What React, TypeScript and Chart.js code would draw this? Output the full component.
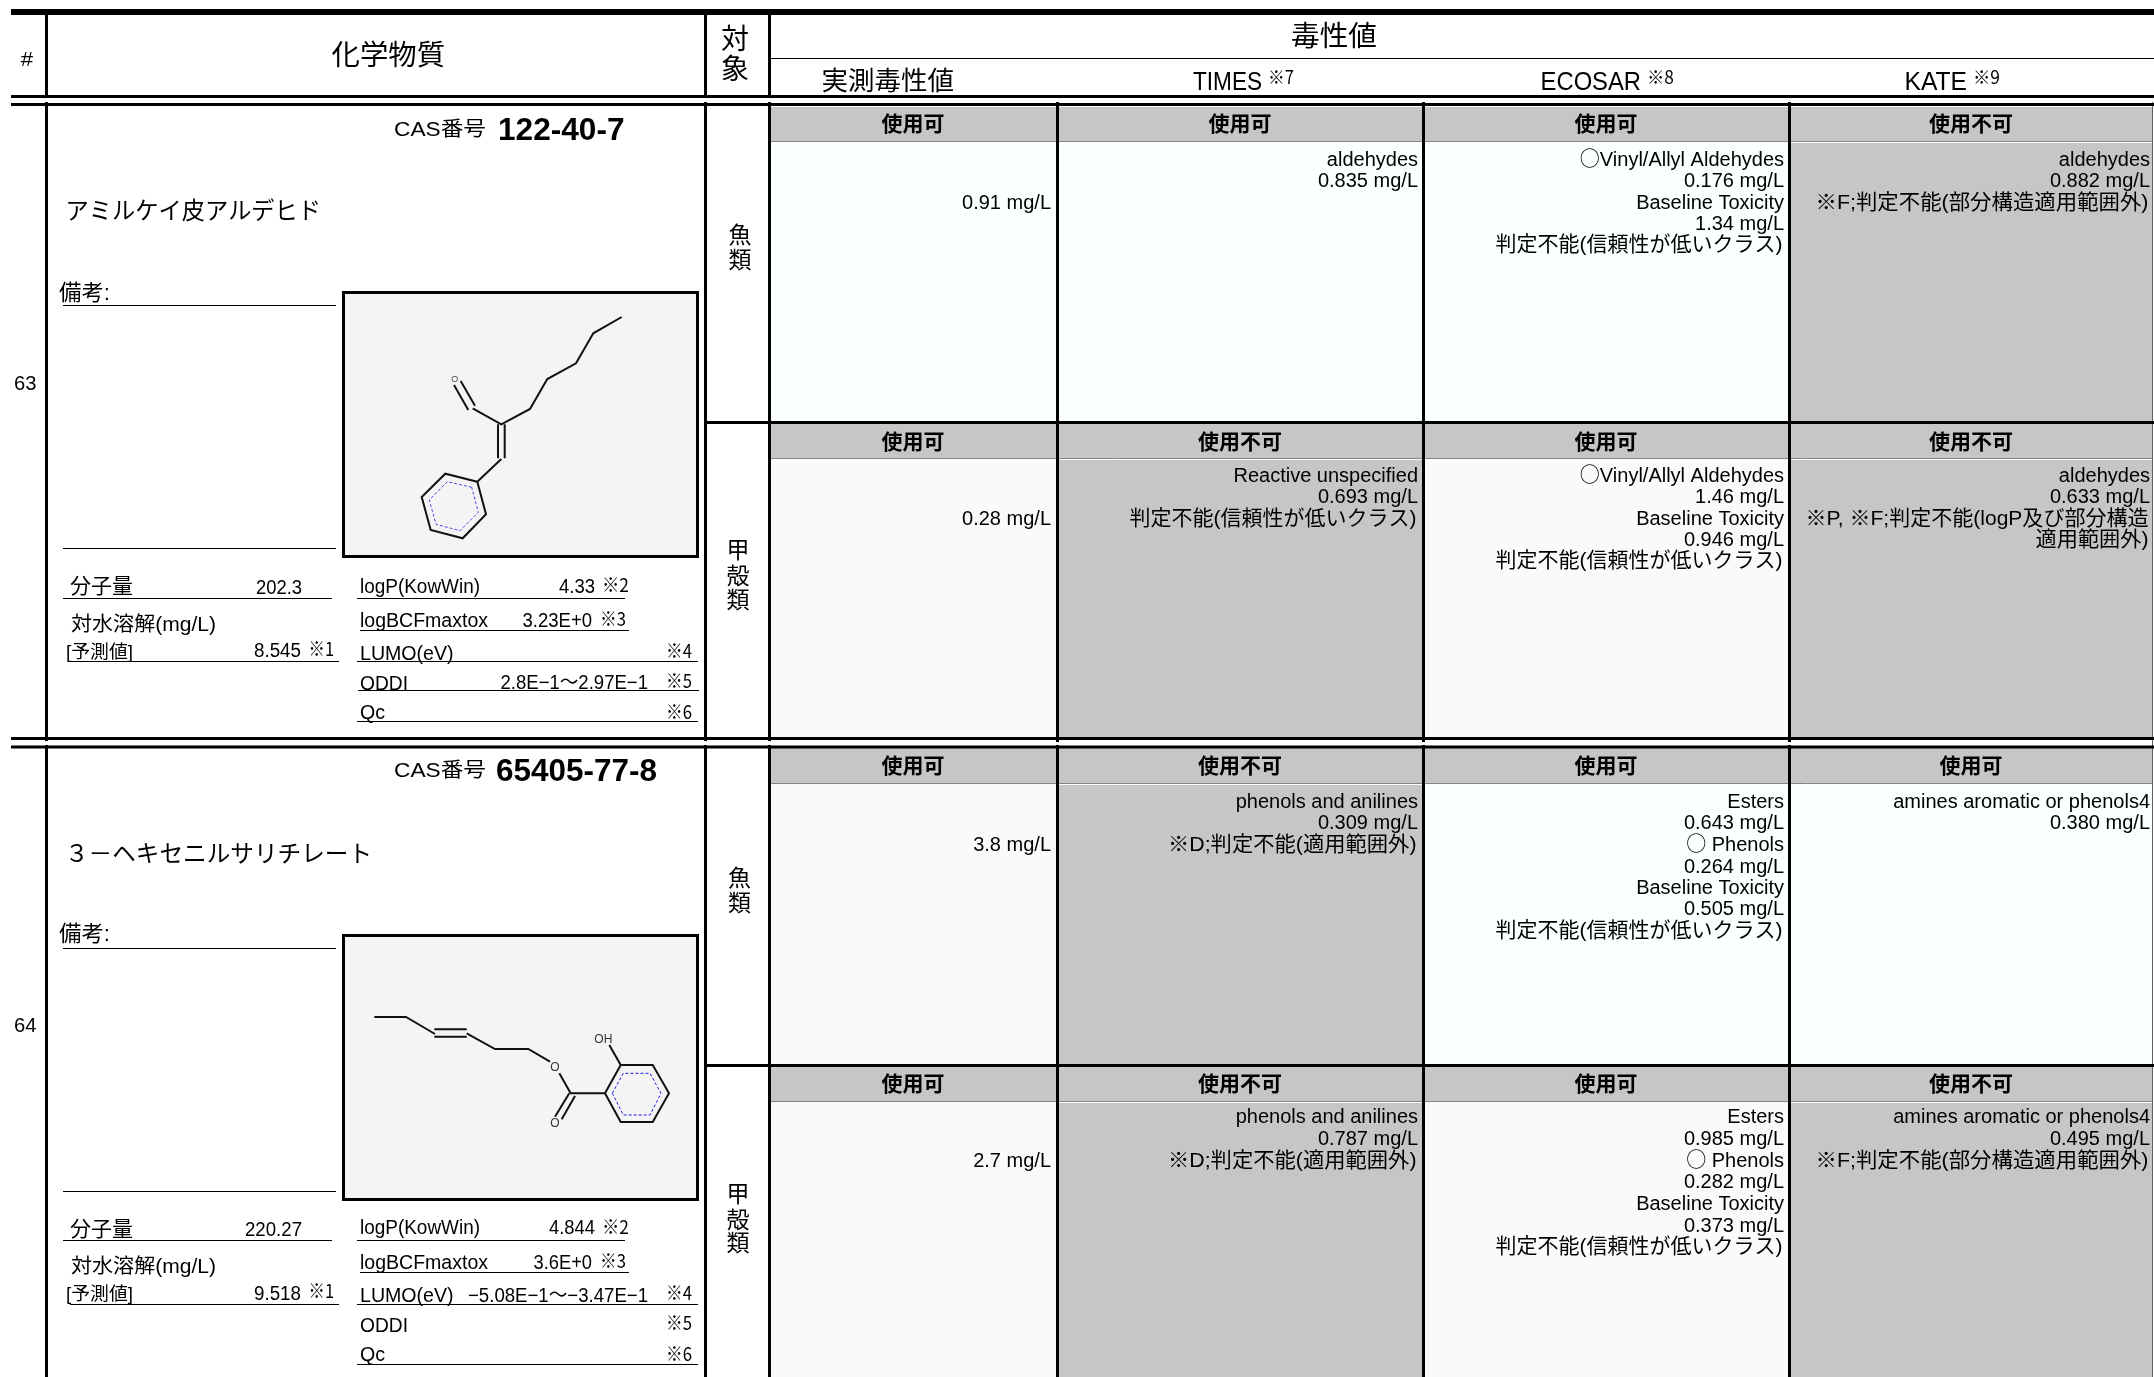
import React, { useEffect, useRef } from "react";
import { Chart, registerables } from "chart.js";

Chart.register(...registerables);

/* ---------- table content ---------- */
const headerChemical = "化学物質";
const headerTarget = ["対", "象"];
const headerToxicity = "毒性値";
const methods = ["実測毒性値", "TIMES", "ECOSAR", "KATE"];
const methodNotes = ["※7", "※8", "※9"];
const casLabel = "CAS番号";
const remarksLabel = "備考:";
const ids = ["63", "64"];
const casNumbers = ["122-40-7", "65405-77-8"];
const chemicalNames = ["アミルケイ皮アルデヒド", "３－ヘキセニルサリチレート"];
const molecularWeights = ["202.3", "220.27"];
const solubilities = ["8.545", "9.518"];
const logPValues = ["4.33", "4.844"];
const logBcfValues = ["3.23E+0", "3.6E+0"];
const lumoValues = ["", "−5.08E−1～−3.47E−1"];
const oddiValues = ["2.8E−1～2.97E−1", ""];
const propertyLabels = ["分子量", "対水溶解(mg/L)", "[予測値]", "logP(KowWin)", "logBCFmaxtox", "LUMO(eV)", "ODDI", "Qc"];
const noteMarks = ["※1", "※2", "※3", "※4", "※5", "※6"];
const fishLabel = ["魚", "類"];
const crustaceanLabel = ["甲", "殻", "類"];

const statusRow1 = ["使用可", "使用可", "使用可", "使用不可"];
const statusRow2 = ["使用可", "使用不可", "使用可", "使用不可"];
const statusRow3 = ["使用可", "使用不可", "使用可", "使用可"];
const statusRow4 = ["使用可", "使用不可", "使用可", "使用不可"];

const cellsRow1 = [
  ["", "", "0.91 mg/L"],
  ["aldehydes", "0.835 mg/L"],
  ["○Vinyl/Allyl Aldehydes", "0.176 mg/L", "Baseline Toxicity", "1.34 mg/L", "判定不能(信頼性が低いクラス)"],
  ["aldehydes", "0.882 mg/L", "※F;判定不能(部分構造適用範囲外)"],
];
const cellsRow2 = [
  ["", "", "0.28 mg/L"],
  ["Reactive unspecified", "0.693 mg/L", "判定不能(信頼性が低いクラス)"],
  ["○Vinyl/Allyl Aldehydes", "1.46 mg/L", "Baseline Toxicity", "0.946 mg/L", "判定不能(信頼性が低いクラス)"],
  ["aldehydes", "0.633 mg/L", "※P, ※F;判定不能(logP及び部分構造", "適用範囲外)"],
];
const cellsRow3 = [
  ["", "", "3.8 mg/L"],
  ["phenols and anilines", "0.309 mg/L", "※D;判定不能(適用範囲外)"],
  ["Esters", "0.643 mg/L", "○ Phenols", "0.264 mg/L", "Baseline Toxicity", "0.505 mg/L", "判定不能(信頼性が低いクラス)"],
  ["amines aromatic or phenols4", "0.380 mg/L"],
];
const cellsRow4 = [
  ["", "", "2.7 mg/L"],
  ["phenols and anilines", "0.787 mg/L", "※D;判定不能(適用範囲外)"],
  ["Esters", "0.985 mg/L", "○ Phenols", "0.282 mg/L", "Baseline Toxicity", "0.373 mg/L", "判定不能(信頼性が低いクラス)"],
  ["amines aromatic or phenols4", "0.495 mg/L", "※F;判定不能(部分構造適用範囲外)"],
];

/* ---------- molecule drawings, in axis units ---------- */
type P = [number, number];
const mol1Bonds: P[][] = [
  [[621.7, 317], [593.3, 333.3], [576, 363.3], [547.3, 379], [530, 409], [501.3, 424.3], [472.7, 408.3]],
  [[468.3, 410], [454, 385]],
  [[475, 405.7], [460.7, 381]],
  [[498, 424.3], [498, 458.3]],
  [[504.7, 424.3], [504.7, 458.3]],
  [[501.3, 459], [477.3, 481.7]],
  [[477.3, 481.7], [445.3, 473.7], [421.7, 497], [430.7, 530], [462.7, 538.3], [486, 514.3], [477.3, 481.7]],
];
const mol1Aromatic: P[] = [[471.7, 487.3], [447.3, 481.7], [429.3, 500], [436, 524.3], [460, 530.7], [478.3, 512.3], [471.7, 487.3]];
const mol2Bonds: P[][] = [
  [[374.3, 1017], [406, 1017], [435, 1034]],
  [[434.3, 1029.3], [466.7, 1029.3]],
  [[434.3, 1036.7], [466.7, 1036.7]],
  [[466.7, 1033.3], [495, 1049], [528.3, 1049], [550, 1061.7]],
  [[559.3, 1073.3], [570.7, 1093.3], [605, 1093.3]],
  [[569.3, 1093.3], [555, 1116.7]],
  [[575, 1096], [561.7, 1119.3]],
  [[605, 1093.3], [620.7, 1065], [652.7, 1065], [669, 1093.3], [652.7, 1122], [620.7, 1122], [605, 1093.3]],
  [[620.7, 1065], [609.3, 1045]],
];
const mol2Aromatic: P[] = [[612.3, 1093.3], [623.3, 1073.3], [650, 1073.3], [661, 1093.3], [650, 1115], [623.3, 1115], [612.3, 1093.3]];

/* ---------- layout ---------- */
const W = 2154;
const H = 1377;
const ROW_SHIFT = 643;
const GRAY = "#C6C6C6";
const CYAN = "#FAFFFF";
const PALE = "#FAFAFA";
const FONT = '"Liberation Sans","Noto Sans CJK JP",sans-serif';
const JP = '"Noto Sans CJK JP","Liberation Sans",sans-serif';

const colX = [[771, 1056], [1059, 1422], [1425, 1788], [1791, 2152]];
const colRight = [1051, 1418, 1784, 2150];
const colStatusCenter = [913, 1240, 1606, 1971];
const rowBand = [
  { head: 107, split: 141, end: 421, statusBase: 130.5, lines: [166, 187, 208.5, 229.5, 251, 272, 293] },
  { head: 424, split: 458, end: 737, statusBase: 448.5, lines: [482, 503, 525, 546, 567, 588, 609] },
  { head: 748, split: 783, end: 1064, statusBase: 772.5, lines: [807.5, 829, 851, 872.5, 893.5, 915, 937] },
  { head: 1067, split: 1101, end: 1377, statusBase: 1090.5, lines: [1123, 1145, 1167, 1188, 1209.5, 1232, 1253] },
];
const cellFills = [
  [CYAN, CYAN, CYAN, GRAY],
  [PALE, GRAY, PALE, GRAY],
  [PALE, GRAY, CYAN, CYAN],
  [PALE, GRAY, PALE, GRAY],
];
const allCells = [cellsRow1, cellsRow2, cellsRow3, cellsRow4];
const allStatus = [statusRow1, statusRow2, statusRow3, statusRow4];
const longLineWidths: [string, number][] = [["※F", 333], ["※D", 248.5], ["※P", 343], ["適用", 113]];

const toPts = (p: P[]) => p.map(([x, y]) => ({ x, y }));
const lineDs = (p: P[], color: string, width: number, order: number, dash: number[] = []) => ({
  data: toPts(p),
  showLine: true,
  pointRadius: 0,
  borderColor: color,
  borderWidth: width,
  borderDash: dash,
  borderCapStyle: "butt",
  borderJoinStyle: "miter",
  tension: 0,
  fill: false,
  clip: false,
  order,
});
const rectDs = (x0: number, x1: number, y0: number, y1: number, color: string) => ({
  data: toPts([[x0, y0], [x1, y0], [x1, y1], [x0, y1], [x0, y0]]),
  showLine: true,
  pointRadius: 0,
  borderWidth: 0,
  borderColor: "transparent",
  backgroundColor: color,
  fill: "shape",
  tension: 0,
  clip: false,
  order: 20,
});
const h = (x0: number, x1: number, y: number, w: number, c = "#000", order = 5) => lineDs([[x0, y], [x1, y]], c, w, order);
const v = (x: number, y0: number, y1: number, w: number, c = "#000", order = 5) => lineDs([[x, y0], [x, y1]], c, w, order);

function buildDatasets() {
  const ds: any[] = [];
  // cell fills
  rowBand.forEach((r, ri) => {
    ds.push(rectDs(769, 2153, r.head, r.split, GRAY));
    colX.forEach(([x0, x1], ci) => {
      const fill = cellFills[ri][ci];
      ds.push(rectDs(x0, x1, r.split + (fill === GRAY ? 2 : 1), r.end, fill));
    });
    ds.push(h(771, 2153, r.split + 0.5, 1, "#858585", 8));
  });
  // molecule panels
  [0, ROW_SHIFT].forEach((s) => ds.push(rectDs(343, 698, 292 + s, 557 + s, "#F4F4F4")));
  // thick rules
  ds.push(h(11, W, 12, 6));
  ds.push(h(11, W, 96.5, 3));
  ds.push(h(11, W, 104.5, 3));
  ds.push(h(706, W, 422.5, 3));
  ds.push(h(11, W, 738.5, 3));
  ds.push(h(11, W, 747, 3));
  ds.push(h(706, W, 1065.5, 3));
  ds.push(h(770, W, 58.5, 1));
  // vertical rules
  [46.5, 705.5, 769.5].forEach((x) => {
    ds.push(v(x, 14, 97, 3));
    ds.push(v(x, 102, 741, 3));
    ds.push(v(x, 745, H, 3));
  });
  [1057.5, 1423.5, 1789.5].forEach((x) => {
    ds.push(v(x, 102, 742, 3));
    ds.push(v(x, 745, H, 3));
  });
  ds.push(v(2152.5, 102, H, 1, "#606060"));
  // molecule panels frames
  [0, ROW_SHIFT].forEach((s) => {
    const t = 292.5 + s;
    const b = 556.5 + s;
    ds.push(lineDs([[343.5, t], [697.5, t], [697.5, b], [343.5, b], [343.5, t - 1.5]], "#000", 3, 6));
  });
  // thin underlines
  const thin = (x0: number, x1: number, y: number) => ds.push(h(x0, x1, y, 1));
  thin(63, 336, 305.5);
  thin(63, 336, 548.5);
  thin(63, 332, 598.5);
  thin(70, 339, 661.5);
  thin(357, 625, 598.5);
  thin(360, 629, 630.5);
  thin(357, 698, 661.5);
  thin(358, 699, 690.5);
  thin(357, 698, 721.5);
  thin(63, 336, 948.5);
  thin(63, 336, 1191.5);
  thin(63, 332, 1240.5);
  thin(70, 339, 1304.5);
  thin(357, 625, 1240.5);
  thin(360, 629, 1272.5);
  thin(357, 698, 1304.5);
  thin(357, 698, 1364.5);
  // molecules
  mol1Bonds.forEach((b) => ds.push(lineDs(b, "#111", 2, 3)));
  ds.push(lineDs(mol1Aromatic, "#4848F0", 1, 3, [3, 2]));
  mol2Bonds.forEach((b) => ds.push(lineDs(b, "#111", 2, 3)));
  ds.push(lineDs(mol2Aromatic, "#2020E8", 1, 3, [3, 2]));
  return ds;
}

/* ---------- text ---------- */
type Txt = {
  t: string;
  x: number;
  y: number;
  size: number;
  align?: "left" | "right" | "center";
  w?: number;
  bold?: boolean;
  font?: string;
  color?: string;
};

function buildTexts(): Txt[] {
  const out: Txt[] = [];
  const fit = (t: string, l: number, r: number, y: number, size: number, bold = false, font = FONT) =>
    out.push({ t, x: l, y, size, w: r - l, bold, font, align: "left" });
  const mid = (t: string, x: number, y: number, size: number, bold = false) =>
    out.push({ t, x, y, size, bold, font: JP, align: "center" });

  fit("#", 20.7, 33, 66, 21);
  fit(headerChemical, 331.5, 445, 65, 28, false, JP);
  mid(headerTarget[0], 735, 49, 28);
  mid(headerTarget[1], 735, 79, 28);
  fit(headerToxicity, 1291, 1377, 46, 28, false, JP);
  fit(methods[0], 821.5, 954, 90, 26, false, JP);
  fit(methods[1], 1193, 1262, 89.5, 25);
  fit(methodNotes[0], 1268, 1294, 84, 18, false, JP);
  fit(methods[2], 1540.6, 1641, 89.5, 25);
  fit(methodNotes[1], 1647, 1674, 84, 18, false, JP);
  fit(methods[3], 1904.5, 1967, 89.5, 25);
  fit(methodNotes[2], 1973, 2000, 84, 18, false, JP);

  // chemical panels
  [0, 1].forEach((i) => {
    const s = i * ROW_SHIFT;
    fit(ids[i], 14, 36.5, 390 + s - (i ? 1 : 0), 21);
    fit(casLabel, 394, 486, i ? 777 : 135.5, 20);
    if (i === 0) fit(casNumbers[0], 498, 624.5, 140, 31, true);
    else fit(casNumbers[1], 496, 657, 781, 31, true);
    if (i === 0) fit(chemicalNames[0], 65.6, 321, 219, 24, false, JP);
    else fit(chemicalNames[1], 65, 372, 219 + s, 24, false, JP);
    fit(remarksLabel, 59, 110, i ? 941 : 300, 22);
    fit(propertyLabels[0], 70, 133, i ? 1236 : 593, 21, false, JP);
    if (i === 0) fit(molecularWeights[0], 256, 302, 593.5, 20);
    else fit(molecularWeights[1], 245, 302, 1235.5, 20);
    fit(propertyLabels[1], 71, 216, i ? 1273 : 631, 20);
    fit(propertyLabels[2], 66, 133, i ? 1300 : 658, 18);
    fit(solubilities[i], 254, 301, i ? 1300 : 657, 20);
    fit(noteMarks[0], 308.5, 334, i ? 1298 : 656, 19, false, JP);
    fit(propertyLabels[3], 360, 480, i ? 1234 : 593, 20);
    if (i === 0) fit(logPValues[0], 559, 595, 593, 20);
    else fit(logPValues[1], 549, 595, 1234, 20);
    fit(noteMarks[1], 602, 629, i ? 1234 : 592, 19, false, JP);
    fit(propertyLabels[4], 360, 488, i ? 1269 : 627, 20);
    if (i === 0) fit(logBcfValues[0], 522.5, 592, 627, 20);
    else fit(logBcfValues[1], 533.5, 592, 1269, 20);
    fit(noteMarks[2], 600, 626, i ? 1268 : 626, 19, false, JP);
    fit(propertyLabels[5], 360, 453.6, i ? 1302 : 660, 20);
    if (i === 1) fit(lumoValues[1], 468, 648, 1302, 20);
    fit(noteMarks[3], 666, 692, i ? 1300 : 658, 19, false, JP);
    fit(propertyLabels[6], 360, 408, i ? 1332 : 690, 20);
    if (i === 0) fit(oddiValues[0], 500.5, 648, 689, 20);
    fit(noteMarks[4], 666, 692, i ? 1330 : 688, 19, false, JP);
    fit(propertyLabels[7], 360, 385, i ? 1361 : 719, 20);
    fit(noteMarks[5], 666, 692, i ? 1361 : 719, 19, false, JP);
  });

  // target labels
  mid(fishLabel[0], 740, 243, 23);
  mid(fishLabel[1], 740, 268, 23);
  mid(crustaceanLabel[0], 738, 558, 23);
  mid(crustaceanLabel[1], 738, 583.5, 23);
  mid(crustaceanLabel[2], 738, 608, 23);
  mid(fishLabel[0], 739.5, 886, 23);
  mid(fishLabel[1], 739.5, 911, 23);
  mid(crustaceanLabel[0], 738, 1202, 23);
  mid(crustaceanLabel[1], 738, 1228, 23);
  mid(crustaceanLabel[2], 738, 1251, 23);

  // cells
  rowBand.forEach((r, ri) => {
    allStatus[ri].forEach((st, ci) => mid(st, colStatusCenter[ci], r.statusBase, 21, true));
    allCells[ri].forEach((lines, ci) => {
      lines.forEach((ln, li) => {
        if (!ln) return;
        const cjk = /[\u3040-\u9fff]/.test(ln);
        const width = longLineWidths.find(([k]) => ln.startsWith(k));
        out.push({
          t: ln,
          x: colRight[ci] - (cjk ? 1.5 : 0),
          y: r.lines[li],
          size: cjk ? 21 : 20,
          align: "right",
          font: FONT,
          w: width ? width[1] : undefined,
        });
      });
    });
  });

  // molecule atom labels
  out.push({ t: "O", x: 454.7, y: 381.5, size: 9, align: "center", font: FONT, color: "#444" });
  out.push({ t: "O", x: 555, y: 1071, size: 12, align: "center", font: FONT, color: "#333" });
  out.push({ t: "O", x: 555, y: 1127, size: 12, align: "center", font: FONT, color: "#333" });
  out.push({ t: "OH", x: 603.3, y: 1042.5, size: 12, align: "center", font: FONT, color: "#333" });
  return out;
}

const textPlugin = {
  id: "tableText",
  afterDatasetsDraw(chart: any) {
    const { ctx, scales } = chart;
    ctx.save();
    ctx.textBaseline = "alphabetic";
    for (const it of buildTexts()) {
      const fontStr = `${it.bold ? "bold " : ""}${it.size}px ${it.font || FONT}`;
      ctx.font = fontStr;
      ctx.fillStyle = it.color || "#000";
      ctx.textAlign = it.align || "left";
      const px = scales.x.getPixelForValue(it.x);
      const py = scales.y.getPixelForValue(it.y);
      if (it.t.startsWith("○")) {
        // the circle glyph comes from the CJK face, the rest from the Latin face
        const rest = it.t.slice(1);
        ctx.fillText(rest, px, py);
        const restW = ctx.measureText(rest).width;
        ctx.font = `${it.size}px ${JP}`;
        ctx.fillText("○", px - restW, py);
        continue;
      }
      ctx.save();
      ctx.translate(px, py);
      if (it.w) {
        const m = ctx.measureText(it.t).width;
        ctx.scale(it.w / m, 1);
      }
      ctx.fillText(it.t, 0, 0);
      ctx.restore();
    }
    ctx.restore();
  },
};

export default function App() {
  const ref = useRef<HTMLCanvasElement | null>(null);
  useEffect(() => {
    if (!ref.current) return;
    const chart = new Chart(ref.current, {
      type: "scatter",
      data: { datasets: buildDatasets() },
      options: {
        animation: false,
        responsive: false,
        maintainAspectRatio: false,
        events: [],
        layout: { padding: 0 },
        plugins: { legend: { display: false }, tooltip: { enabled: false }, title: { display: false } },
        scales: {
          x: { type: "linear", display: false, min: 0, max: W },
          y: { type: "linear", display: false, min: 0, max: H, reverse: true },
        },
      },
      plugins: [textPlugin],
    } as any);
    return () => chart.destroy();
  }, []);
  return (
    <canvas
      ref={ref}
      width={W}
      height={H}
      style={{ position: "absolute", left: 0, top: 0, display: "block", width: W, height: H, background: "#fff" }}
    />
  );
}
